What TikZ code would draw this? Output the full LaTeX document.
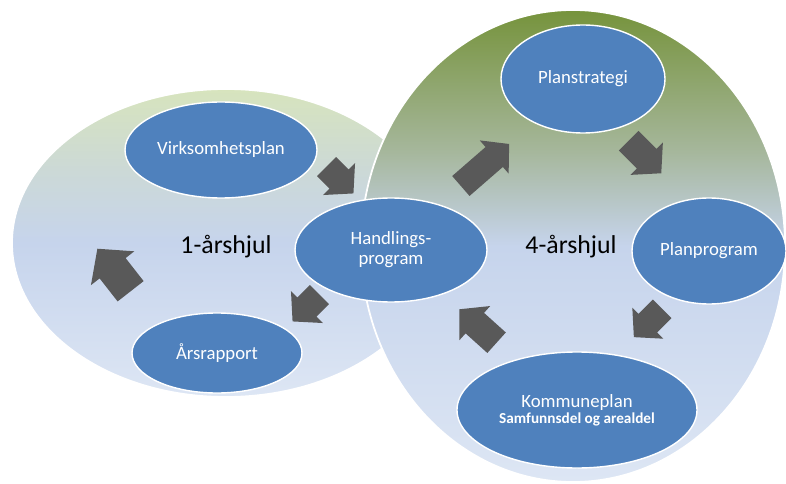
\documentclass[tikz,border=0pt]{standalone}
\usepackage{fontspec}
\setmainfont{Carlito}
\usetikzlibrary{shapes.geometric}
\definecolor{planblue}{HTML}{4F81BD}
\definecolor{arrowgray}{HTML}{595959}
\definecolor{wheelgreen}{HTML}{76933C}
\definecolor{greygreen}{HTML}{A6B79C}
\definecolor{palegreen}{HTML}{D7E4BD}
\definecolor{mistgreen}{HTML}{CCD9D6}
\definecolor{wheelblue}{HTML}{C6D4EC}
\definecolor{paleblue}{HTML}{DDE6F4}
% vertical shadings, path spans 25bp..75bp
\pgfdeclareverticalshading{onewheel}{100bp}{color(0bp)=(paleblue); color(25bp)=(paleblue);
  color(50bp)=(wheelblue); color(62bp)=(mistgreen); color(75bp)=(palegreen); color(100bp)=(palegreen)}
\pgfdeclareverticalshading{fourwheel}{100bp}{color(0bp)=(paleblue); color(25bp)=(paleblue);
  color(50bp)=(wheelblue); color(60bp)=(greygreen); color(75bp)=(wheelgreen); color(100bp)=(wheelgreen)}
\tikzset{
  wheel/.style={ellipse,draw=white,line width=1.5pt,inner sep=0pt},
  phase/.style={ellipse,draw=white,line width=1.2pt,fill=planblue,text=white,
    inner sep=0pt,align=center,font=\fontsize{16}{17}\selectfont},
  wheellabel/.style={font=\fontsize{22}{24}\selectfont,text=black},
  blk/.style={fill=arrowgray}
}
% block arrow: position, angle, length, head width (px)
\newcommand{\blkarrow}[4]{%
  \begin{scope}[shift={#1},rotate=#2]
    \fill[blk] ({-#3/2},{0.3*#4}) -- ({#3/2-0.45*#4},{0.3*#4})
      -- ({#3/2-0.45*#4},{0.5*#4}) -- ({#3/2},0)
      -- ({#3/2-0.45*#4},{-0.5*#4}) -- ({#3/2-0.45*#4},{-0.3*#4})
      -- ({-#3/2},{-0.3*#4}) -- cycle;
  \end{scope}}

\begin{document}
\begin{tikzpicture}[x=0.03cm,y=-0.03cm]
\useasboundingbox (0,0) rectangle (786,484);

% the two wheels
\node[wheel,minimum width=12.84cm,minimum height=9.24cm,shading=onewheel]
  (oneyear) at (226,243) {};
\node[wheel,minimum width=12.72cm,minimum height=14.16cm,shading=fourwheel]
  (fouryear) at (573,246) {};

\node[wheellabel] (onelabel) at (226,247) {1-årshjul};
\node[wheellabel] (fourlabel) at (571,247) {4-årshjul};

% phases
\node[phase,minimum width=5.76cm,minimum height=2.88cm] (virk) at (221,150) {Virksomhetsplan};
\node[phase,minimum width=5.1cm,minimum height=2.4cm] (aars) at (217,353) {Årsrapport};
\node[phase,minimum width=5.76cm,minimum height=3.12cm] (handl) at (391,250) {Handlings-\\program};
\node[phase,minimum width=4.92cm,minimum height=3.24cm] (planstr) at (583,79) {Planstrategi};
\node[phase,minimum width=4.62cm,minimum height=3.18cm] (planprog) at (709,251) {Planprogram};
\node[phase,minimum width=7.2cm,minimum height=3.48cm] (kplan) at (577,410)
  {Kommuneplan\\[-3pt]{\bfseries\fontsize{13}{14}\selectfont Samfunnsdel og arealdel}};

% cycle arrows
\blkarrow{(340,180)}{-45}{38}{45}
\blkarrow{(306,308)}{-135}{38}{45}
\blkarrow{(114,270)}{128}{54}{55}
\blkarrow{(485,165)}{41}{64}{44}
\blkarrow{(645,157)}{-45}{46}{46}
\blkarrow{(648,323)}{-135}{40}{44}
\blkarrow{(478,326)}{138}{50}{46}
\end{tikzpicture}
\end{document}
